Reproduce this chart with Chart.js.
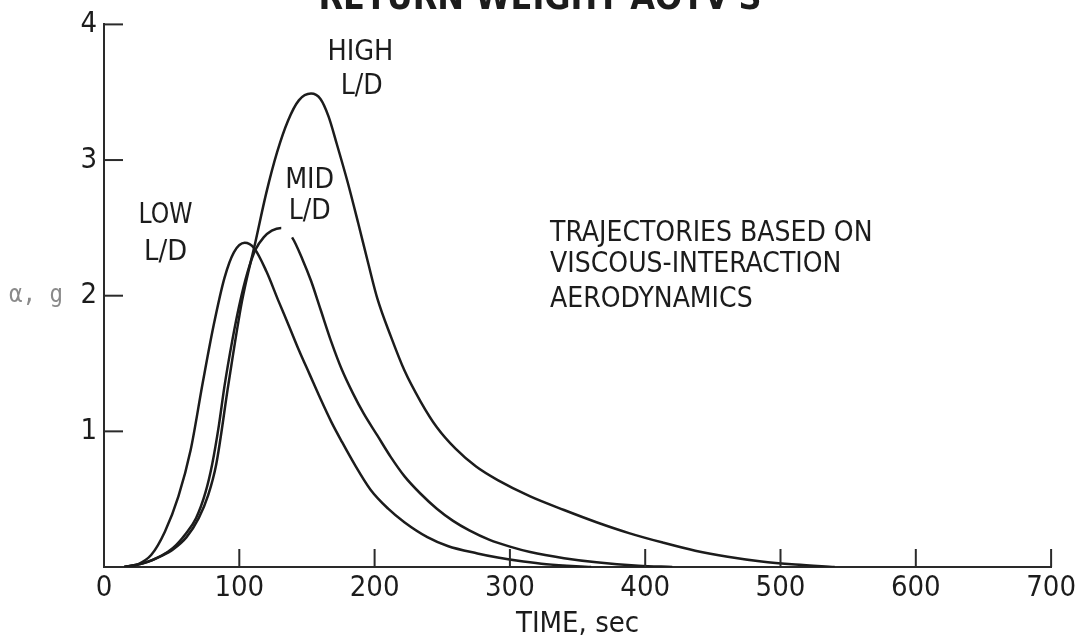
<!DOCTYPE html>
<html>
<head>
<meta charset="utf-8">
<script src="https://cdn.jsdelivr.net/npm/chart.js@4.4.1/dist/chart.umd.min.js"></script>
<style>
  html, body { margin: 0; padding: 0; background: #fff; }
  #wrap { width: 1080px; height: 644px; }
</style>
</head>
<body>
<div id="wrap"><canvas id="returnWeightChart"></canvas></div>
<script>
const xTicks = [0, 100, 200, 300, 400, 500, 600, 700]
const yTicks = [0, 1, 2, 3, 4]

const lowTime = [15, 25, 35, 45, 55, 64, 73, 81, 89, 96, 104, 111, 120, 129, 137, 144, 152, 160, 168, 176, 185, 197, 210, 222, 239, 254, 276, 291, 310, 327, 360]
const lowG = [0, 0.02, 0.09, 0.26, 0.52, 0.86, 1.36, 1.78, 2.13, 2.32, 2.39, 2.35, 2.18, 1.96, 1.77, 1.60, 1.42, 1.24, 1.07, 0.92, 0.76, 0.57, 0.43, 0.33, 0.22, 0.155, 0.10, 0.07, 0.04, 0.02, 0]

const midTime = [15, 30, 42, 51, 60, 68, 75, 80, 85, 89, 95, 100, 106, 112, 118, 124, 131, 139, 147, 153, 160, 168, 176, 184, 192, 202, 212, 222, 234, 246, 258, 270, 285, 300, 315, 340, 364, 395, 420]
const midG = [0, 0.03, 0.08, 0.14, 0.24, 0.36, 0.55, 0.76, 1.05, 1.33, 1.68, 1.93, 2.17, 2.34, 2.43, 2.48, 2.50, 2.43, 2.26, 2.11, 1.90, 1.66, 1.45, 1.28, 1.13, 0.97, 0.81, 0.67, 0.54, 0.43, 0.34, 0.27, 0.20, 0.15, 0.11, 0.065, 0.035, 0.01, 0]

const highTime = [15, 30, 42, 51, 61, 70, 77, 83, 92, 102, 112, 120, 128, 136, 144, 153, 160, 166, 172, 180, 188, 195, 202, 212, 222, 234, 246, 260, 275, 291, 315, 340, 364, 388, 413, 437, 461, 486, 511, 540]
const highG = [0, 0.03, 0.08, 0.13, 0.22, 0.36, 0.53, 0.76, 1.35, 1.96, 2.40, 2.76, 3.06, 3.29, 3.44, 3.49, 3.45, 3.32, 3.12, 2.84, 2.53, 2.25, 1.98, 1.70, 1.45, 1.22, 1.03, 0.87, 0.74, 0.64, 0.52, 0.42, 0.33, 0.25, 0.18, 0.12, 0.075, 0.04, 0.018, 0]

// the MID curve is broken under its label between these two times
const midGapFrom = 131
const midGapTo = 139

const toPoints = (times, values) => times.map((t, i) => ({ x: t, y: values[i] }))

const narrow = "'DejaVu Sans Condensed', 'DejaVu Sans', sans-serif"
const ink = '#1c1c1c'

const lineStyle = {
  borderColor: ink,
  borderWidth: 2.5,
  pointRadius: 0,
  fill: false,
  cubicInterpolationMode: 'monotone'
}

const drawText = (ctx, text, x, y, maxWidth) => {
  if (maxWidth) ctx.fillText(text, x, y, maxWidth)
  else ctx.fillText(text, x, y)
}

const annotate = {
  id: 'annotate',
  afterDraw(chart) {
    const { ctx, scales: { x, y } } = chart
    ctx.save()

    // tick marks point inward, into the plot
    ctx.strokeStyle = '#2a2a2a'
    ctx.lineWidth = 2
    x.ticks.forEach(t => {
      if (t.value === 0) return
      const px = x.getPixelForValue(t.value)
      ctx.beginPath()
      ctx.moveTo(px, y.bottom)
      ctx.lineTo(px, y.bottom - 18)
      ctx.stroke()
    })
    y.ticks.forEach(t => {
      if (t.value === 0) return
      const py = y.getPixelForValue(t.value)
      ctx.beginPath()
      ctx.moveTo(x.left, py)
      ctx.lineTo(x.left + 19, py)
      ctx.stroke()
    })

    ctx.fillStyle = ink
    ctx.textBaseline = 'middle'
    ctx.textAlign = 'center'
    ctx.font = '29px ' + narrow
    drawText(ctx, 'HIGH', x.getPixelForValue(189.5), y.getPixelForValue(3.79), 66)
    drawText(ctx, 'L/D', x.getPixelForValue(190.5), y.getPixelForValue(3.54), 42)
    drawText(ctx, 'MID', x.getPixelForValue(152), y.getPixelForValue(2.85), 49)
    drawText(ctx, 'L/D', x.getPixelForValue(152), y.getPixelForValue(2.62), 42)
    drawText(ctx, 'LOW', x.getPixelForValue(45.5), y.getPixelForValue(2.59), 54)
    drawText(ctx, 'L/D', x.getPixelForValue(45.5), y.getPixelForValue(2.32), 43)

    ctx.textAlign = 'left'
    ctx.font = '28px ' + narrow
    const noteX = x.getPixelForValue(329.7)
    drawText(ctx, 'TRAJECTORIES BASED ON', noteX, y.getPixelForValue(2.46), 326)
    drawText(ctx, 'VISCOUS-INTERACTION', noteX, y.getPixelForValue(2.23), 298)
    drawText(ctx, 'AERODYNAMICS', noteX, y.getPixelForValue(1.97), 210)

    // y axis title
    ctx.fillStyle = '#8a8a8a'
    ctx.font = '24px "DejaVu Sans Mono", monospace'
    drawText(ctx, 'α, g', 9, y.getPixelForValue(2), 54)

    // title, cut off by the top of the frame
    ctx.fillStyle = ink
    ctx.textAlign = 'center'
    ctx.textBaseline = 'alphabetic'
    ctx.font = 'bold 36px ' + narrow
    drawText(ctx, "RETURN WEIGHT AOTV'S", 540, 9, 443)

    ctx.restore()
  }
}

const data = {
  datasets: [
    { label: 'LOW L/D', data: toPoints(lowTime, lowG), ...lineStyle },
    {
      label: 'MID L/D',
      data: toPoints(midTime, midG),
      ...lineStyle,
      segment: {
        borderColor: c => (c.p0.parsed.x >= midGapFrom && c.p1.parsed.x <= midGapTo) ? 'rgba(0,0,0,0)' : undefined
      }
    },
    { label: 'HIGH L/D', data: toPoints(highTime, highG), ...lineStyle }
  ]
}

const config = {
  type: 'line',
  data: data,
  plugins: [annotate],
  options: {
    responsive: true,
    maintainAspectRatio: false,
    animation: false,
    layout: { padding: { top: 23, right: 23, left: 0, bottom: 0 } },
    plugins: {
      legend: { display: false },
      tooltip: { enabled: false }
    },
    scales: {
      x: {
        type: 'linear',
        min: xTicks[0],
        max: xTicks[xTicks.length - 1],
        afterBuildTicks: scale => { scale.ticks = xTicks.map(v => ({ value: v })) },
        afterFit: scale => { scale.height = 77 },
        grid: { display: false, drawTicks: false },
        border: { display: true, color: '#2a2a2a', width: 2 },
        ticks: {
          color: ink,
          padding: 4,
          maxRotation: 0,
          font: { family: narrow, size: 29 }
        },
        title: {
          display: true,
          text: 'TIME, sec',
          color: ink,
          padding: { top: 0, bottom: 2 },
          font: { family: narrow, size: 29 }
        }
      },
      y: {
        type: 'linear',
        min: yTicks[0],
        max: yTicks[yTicks.length - 1],
        afterBuildTicks: scale => { scale.ticks = yTicks.map(v => ({ value: v })) },
        afterFit: scale => { scale.width = 104 },
        grid: { display: false, drawTicks: false },
        border: { display: true, color: '#2a2a2a', width: 2 },
        ticks: {
          color: ink,
          padding: 7,
          font: { family: narrow, size: 29 },
          callback: v => (v === 0 ? '' : String(v))
        }
      }
    }
  }
}

const returnWeightChart = new Chart(document.getElementById('returnWeightChart'), config)
</script>
</body>
</html>
